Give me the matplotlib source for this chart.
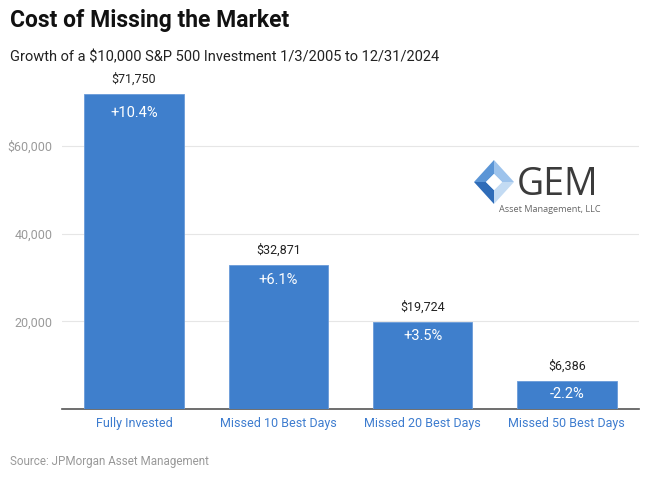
import numpy as np
import matplotlib.pyplot as plt
from matplotlib.patches import Polygon

plt.rcParams['font.family'] = ['Roboto', 'DejaVu Sans']

categories = ["Fully Invested", "Missed 10 Best Days", "Missed 20 Best Days", "Missed 50 Best Days"]
values = [71750, 32871, 19724, 6386]
returns = ["+10.4%", "+6.1%", "+3.5%", "-2.2%"]
yticks = [20000, 40000, 60000]
ytick_labels = ["20,000", "40,000", "$60,000"]

W, H = 650, 478
fig = plt.figure(figsize=(6.5, 4.78), dpi=100)
# axes placed in pixel terms
left, right, top, bottom = 62, 639, 80, 409
ax = fig.add_axes([left / W, 1 - bottom / H, (right - left) / W, (bottom - top) / H])

bar_color = "#3f7fcc"
x = np.arange(len(categories))
bars = ax.bar(x, values, width=0.69, color=bar_color, edgecolor="#6a9bd8", linewidth=0.6, zorder=3)
ax.set_xlim(-0.5, len(categories) - 0.5)
ax.set_ylim(0, 75000)

vmax = max(values)
for xi, v, r in zip(x, values, returns):
    ax.annotate(f"${v:,}", (xi, v), xytext=(0, 6), textcoords="offset points",
                ha="center", va="bottom", fontsize=9, color="#222222")
    # label sits a bit lower on taller bars
    off_px = 12 + 7 * v / vmax
    ax.annotate(r, (xi, v), xytext=(0, -off_px * 0.72), textcoords="offset points",
                ha="center", va="center", fontsize=10.5, color="white")

ax.set_yticks(yticks)
ax.set_yticklabels(ytick_labels)
ax.yaxis.grid(True, color="#e6e6e6", linewidth=0.8, zorder=0)
ax.tick_params(axis="y", length=0, pad=7, labelsize=9, labelcolor="#9a9a9a")
ax.set_xticks(x)
ax.set_xticklabels(categories)
ax.tick_params(axis="x", length=0, pad=6, labelsize=9, labelcolor="#3d7ccf")
for s in ["top", "right", "left"]:
    ax.spines[s].set_visible(False)
ax.spines["bottom"].set_color("#555555")
ax.spines["bottom"].set_linewidth(1.2)

fig.text(10 / W, 1 - 21 / H, "Cost of Missing the Market", fontsize=16.5, fontweight="bold",
         va="center", ha="left", color="#111111")
fig.text(10 / W, 1 - 57 / H, "Growth of a $10,000 S&P 500 Investment 1/3/2005 to 12/31/2024",
         fontsize=10.5, va="center", ha="left", color="#222222")
fig.text(10 / W, 1 - 461 / H, "Source: JPMorgan Asset Management", fontsize=8.4,
         va="center", ha="left", color="#999999")

# logo
cx, cy, R, r = 494, 182, 20, 8
def pt(px, py):
    return (px / W, 1 - py / H)
outer = [pt(cx - R, cy), pt(cx, cy - R - 2), pt(cx + R, cy), pt(cx, cy + R + 2)]
inner = [pt(cx - r, cy), pt(cx, cy - r), pt(cx + r, cy), pt(cx, cy + r)]
face_colors = ["#5b95d6", "#9dc3ec", "#c3dbf3", "#2f6cb8"]
for i in range(4):
    quad = [outer[i], outer[(i + 1) % 4], inner[(i + 1) % 4], inner[i]]
    fig.patches.append(Polygon(quad, closed=True, transform=fig.transFigure,
                               facecolor=face_colors[i], edgecolor="none"))
fig.patches.append(Polygon(inner, closed=True, transform=fig.transFigure,
                           facecolor="white", edgecolor="none"))
fig.text(517 / W, 1 - 195 / H, "GEM", fontsize=27, family=["Open Sans", "DejaVu Sans"],
         color="#3b3b3b", va="baseline", ha="left")
fig.text(499 / W, 1 - 209 / H, "Asset Management, LLC", fontsize=6.6,
         family=["Open Sans", "DejaVu Sans"], color="#666666", va="center", ha="left")

fig.savefig("out.png", dpi=100)
